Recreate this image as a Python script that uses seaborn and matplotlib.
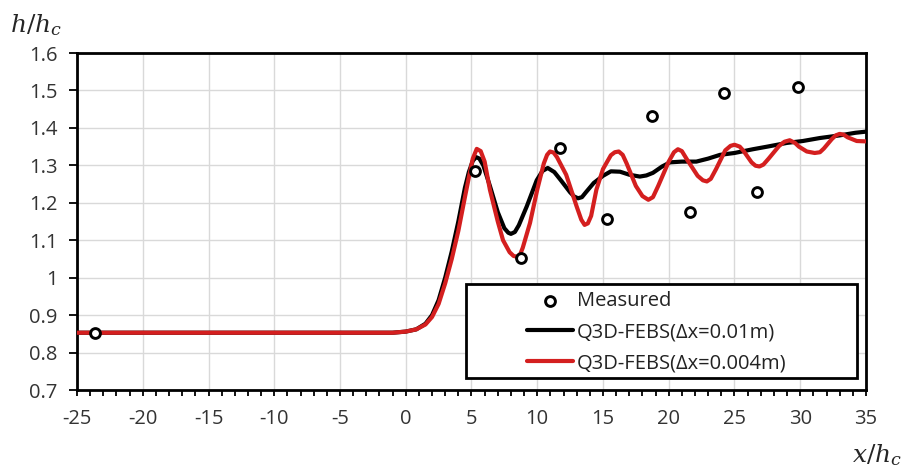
import numpy as np
import pandas as pd
import matplotlib
matplotlib.use('Agg')
import matplotlib.pyplot as plt
import seaborn as sns
from matplotlib.patches import Rectangle
from matplotlib.ticker import MultipleLocator

# ---- data ----
meas_x = [-23.6, 5.3, 8.8, 11.7, 15.3, 18.7, 21.6, 24.2, 26.7, 29.8]
meas_y = [0.852, 1.286, 1.053, 1.345, 1.157, 1.433, 1.176, 1.494, 1.229, 1.508]

coarse_x = [-25, -1, 0, 0.8, 1.5, 2.0, 2.5, 3.0, 3.5, 4.0, 4.5, 4.8, 5.1, 5.35,
            5.6, 5.9, 6.4, 7.0, 7.5, 7.8, 8.0, 8.3, 8.6, 9.2, 9.96, 10.4, 10.8,
            11.3, 11.8, 12.5, 12.8, 13.1, 13.4, 13.7, 14.3, 15.0, 15.6, 16.3,
            17.0, 17.8, 18.3, 18.8, 19.5, 20.1, 21.0, 22.1, 23.0, 23.9, 25.0,
            26.4, 27.5, 29.0, 30.2, 31.5, 33.0, 34.2, 35.0]
coarse_y = [0.853, 0.853, 0.856, 0.862, 0.877, 0.900, 0.940, 1.000, 1.070,
            1.150, 1.240, 1.282, 1.312, 1.322, 1.318, 1.300, 1.245, 1.175,
            1.132, 1.120, 1.117, 1.122, 1.140, 1.190, 1.260, 1.285, 1.293,
            1.282, 1.260, 1.228, 1.217, 1.212, 1.215, 1.228, 1.253, 1.272,
            1.284, 1.283, 1.275, 1.270, 1.273, 1.280, 1.297, 1.308, 1.310,
            1.310, 1.318, 1.328, 1.333, 1.343, 1.350, 1.360, 1.365, 1.373,
            1.380, 1.387, 1.390]

fine_x = [-25, -1, 0, 0.8, 1.5, 2.0, 2.5, 3.0, 3.5, 4.0, 4.5, 4.8, 5.1, 5.4,
          5.7, 6.0, 6.4, 7.0, 7.4, 7.9, 8.2, 8.45, 8.7, 8.9, 9.45, 10.0,
          10.5, 10.75, 10.97, 11.25, 11.5, 12.2, 13.0, 13.35, 13.6, 13.85,
          14.1, 14.5, 15.0, 15.6, 15.9, 16.2, 16.5, 16.8, 17.5, 18.0, 18.45,
          18.8, 19.2, 20.0, 20.4, 20.7, 21.0, 21.4, 22.2, 22.6, 22.9, 23.2,
          23.6, 24.3, 24.7, 25.0, 25.4, 25.7, 26.3, 26.6, 26.9, 27.2, 27.6,
          28.4, 28.8, 29.2, 29.6, 29.9, 30.5, 31.1, 31.5, 31.8, 32.4, 32.7,
          33.0, 33.3, 33.6, 34.3, 35.0]
fine_y = [0.853, 0.853, 0.856, 0.862, 0.875, 0.895, 0.930, 0.985, 1.050,
          1.125, 1.215, 1.268, 1.318, 1.344, 1.338, 1.310, 1.235, 1.150,
          1.100, 1.068, 1.058, 1.056, 1.062, 1.080, 1.146, 1.235, 1.305,
          1.328, 1.337, 1.334, 1.322, 1.275, 1.190, 1.155, 1.141, 1.145,
          1.165, 1.235, 1.290, 1.327, 1.335, 1.337, 1.328, 1.305, 1.245,
          1.218, 1.208, 1.215, 1.245, 1.310, 1.335, 1.343, 1.338, 1.315,
          1.272, 1.260, 1.257, 1.264, 1.290, 1.340, 1.352, 1.355, 1.350,
          1.338, 1.308, 1.299, 1.297, 1.302, 1.318, 1.352, 1.363, 1.367,
          1.360, 1.350, 1.337, 1.333, 1.335, 1.345, 1.370, 1.380, 1.384,
          1.382, 1.375, 1.365, 1.364]

x_ticks = list(range(-25, 36, 5))
y_ticks = [0.7, 0.8, 0.9, 1.0, 1.1, 1.2, 1.3, 1.4, 1.5, 1.6]
y_tick_labels = ['0.7', '0.8', '0.9', '1', '1.1', '1.2', '1.3', '1.4', '1.5', '1.6']

lab_meas = 'Measured'
lab_coarse = 'Q3D-FEBS(Δx=0.01m)'
lab_fine = 'Q3D-FEBS(Δx=0.004m)'

# ---- style ----
sns.set_style('white')
plt.rcParams['font.family'] = ['Open Sans', 'DejaVu Sans']
plt.rcParams['mathtext.fontset'] = 'dejavuserif'

fig = plt.figure(figsize=(9.06, 4.70), dpi=100)
ax = fig.add_axes([0.085, 0.1702, 0.8708, 0.717])

df_c = pd.DataFrame({'x': coarse_x, 'y': coarse_y})
df_f = pd.DataFrame({'x': fine_x, 'y': fine_y})
df_m = pd.DataFrame({'x': meas_x, 'y': meas_y})

sns.lineplot(data=df_c, x='x', y='y', ax=ax, color='black', lw=3,
             sort=False, estimator=None, label=lab_coarse, zorder=3)
sns.lineplot(data=df_f, x='x', y='y', ax=ax, color='#d41f1f', lw=3,
             sort=False, estimator=None, label=lab_fine, zorder=4)
sns.scatterplot(data=df_m, x='x', y='y', ax=ax, marker='o', s=50,
                facecolor='white', edgecolor='black', linewidth=2.1,
                label=lab_meas, zorder=5)

ax.set_xlim(-25, 35)
ax.set_ylim(0.7, 1.6)
ax.set_xticks(x_ticks)
ax.set_xticklabels([str(t) for t in x_ticks])
ax.set_yticks(y_ticks)
ax.set_yticklabels(y_tick_labels)
ax.xaxis.set_minor_locator(MultipleLocator(1))
ax.set_xlabel('')
ax.set_ylabel('')

ax.set_axisbelow(True)
ax.grid(True, which='major', color='#d9d9d9', lw=1)
for sp in ax.spines.values():
    sp.set_color('black')
    sp.set_linewidth(2)

ax.tick_params(axis='x', which='both', direction='out', length=4.5, width=1.3,
               color='black', bottom=True, labelsize=14.5, labelcolor='#333333', pad=9)
ax.tick_params(axis='x', which='minor', length=4.5)
ax.tick_params(axis='y', which='major', direction='out', length=6, width=1.3,
               color='black', left=True, labelsize=14.5, labelcolor='#333333', pad=8)

# legend frame
ax.add_patch(Rectangle((0.493, 0.0356), 0.4956, 0.279, transform=ax.transAxes,
                       facecolor='white', edgecolor='black', lw=2, zorder=6))
h, l = ax.get_legend_handles_labels()
order = [l.index(lab_meas), l.index(lab_coarse), l.index(lab_fine)]
leg = ax.legend([h[i] for i in order], [l[i] for i in order], loc='center',
                bbox_to_anchor=(0.735, 0.172), frameon=False, fontsize=14.5,
                handlelength=2.3, handletextpad=0.2, labelspacing=0.55,
                borderpad=0.2)
leg.set_zorder(7)
for t in leg.get_texts():
    t.set_color('#222222')

fig.text(0.011, 0.975, r'$h/h_c$', fontsize=18, ha='left', va='top')
fig.text(0.996, 0.004, r'$x/h_c$', fontsize=18, ha='right', va='bottom')

fig.savefig('out.png', dpi=100)
